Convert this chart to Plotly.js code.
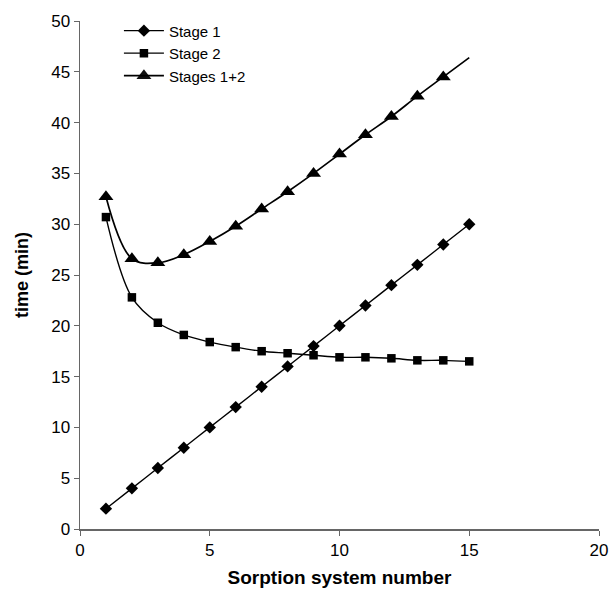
<!DOCTYPE html>
<html>
<head>
<meta charset="utf-8">
<script src="https://cdn.plot.ly/plotly-3.0.1.min.js"></script>
<style>html,body{margin:0;padding:0;background:#fff;}#chart{width:609px;height:595px;}</style>
</head>
<body>
<div id="chart"></div>
<script>
var systemNumber = [1,2,3,4,5,6,7,8,9,10,11,12,13,14,15];
var stage1 = [2,4,6,8,10,12,14,16,18,20,22,24,26,28,30];
var stage2 = [30.7,22.8,20.3,19.1,18.4,17.9,17.5,17.3,17.1,16.9,16.9,16.8,16.6,16.6,16.5];
var stages12 = [32.7,26.6,26.2,27.0,28.3,29.8,31.5,33.2,35.0,36.9,38.8,40.6,42.6,44.5,46.4];
var seriesNames = ["Stage 1","Stage 2","Stages 1+2"];

var triOpacity = systemNumber.map(function(v,i){return i===systemNumber.length-1?0:1;});

var traces = [
  {x: systemNumber, y: stage1, name: seriesNames[0], mode: "lines+markers",
   line: {color: "#000", width: 1.4, shape: "spline"},
   marker: {symbol: "diamond", size: 9.5, color: "#000", line: {width: 0}}},
  {x: systemNumber, y: stage2, name: seriesNames[1], mode: "lines+markers",
   line: {color: "#000", width: 1.4, shape: "spline"},
   marker: {symbol: "square", size: 8.5, color: "#000", line: {width: 0}}},
  {x: systemNumber, y: stages12, name: seriesNames[2], mode: "lines+markers",
   line: {color: "#000", width: 1.7, shape: "spline"},
   marker: {symbol: "triangle-up", size: 13, color: "#000", opacity: triOpacity, line: {width: 0}}}
];

var layout = {
  width: 609, height: 595,
  margin: {l: 80, r: 10, t: 21, b: 66},
  paper_bgcolor: "#fff", plot_bgcolor: "#fff",
  font: {family: "Liberation Sans, Arial, sans-serif", color: "#000"},
  showlegend: true,
  legend: {x: 0.075, y: 1.013, xanchor: "left", yanchor: "top",
           font: {size: 15, color: "#000"}, bgcolor: "rgba(0,0,0,0)",
           tracegroupgap: 0, itemwidth: 40},
  xaxis: {range: [0, 20], dtick: 5, tick0: 0, showgrid: false, zeroline: false,
          showline: true, linecolor: "#666", linewidth: 1.5,
          ticks: "outside", ticklen: 5, tickcolor: "#666",
          tickfont: {size: 17, color: "#000"},
          title: {text: "Sorption system number", font: {size: 19, color: "#000", weight: "bold"}, standoff: 12}},
  yaxis: {range: [0, 50], dtick: 5, tick0: 0, showgrid: false, zeroline: false,
          showline: true, linecolor: "#666", linewidth: 1.5,
          ticks: "outside", ticklen: 5, tickcolor: "#666",
          tickfont: {size: 17, color: "#000"},
          title: {text: "time (min)", font: {size: 18, color: "#000", weight: "bold"}, standoff: 18}}
};

Plotly.newPlot("chart", traces, layout, {staticPlot: true, displayModeBar: false});
</script>
</body>
</html>
